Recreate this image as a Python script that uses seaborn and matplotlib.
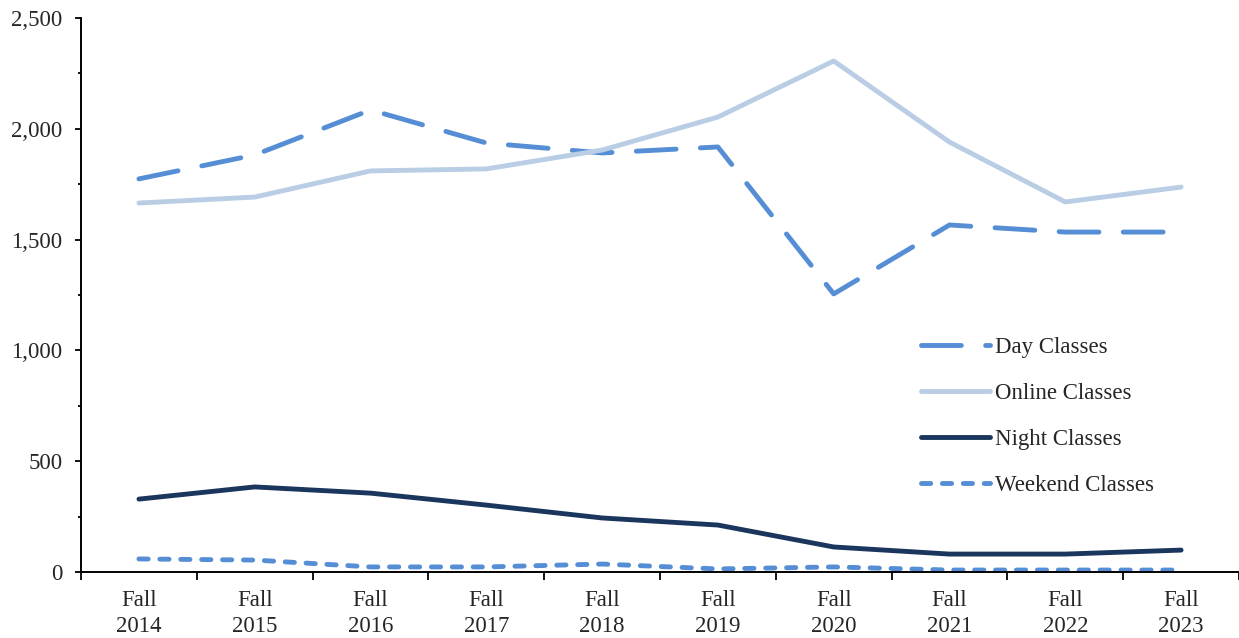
import numpy as np
import pandas as pd
import matplotlib.pyplot as plt
import seaborn as sns
from matplotlib.ticker import FuncFormatter, FixedLocator, MultipleLocator

# data
terms = ['Fall\n2014', 'Fall\n2015', 'Fall\n2016', 'Fall\n2017', 'Fall\n2018',
         'Fall\n2019', 'Fall\n2020', 'Fall\n2021', 'Fall\n2022', 'Fall\n2023']
day = [1774, 1882, 2085, 1936, 1891, 1918, 1255, 1566, 1534, 1534]
online = [1665, 1692, 1810, 1819, 1904, 2053, 2306, 1940, 1670, 1737]
night = [329, 384, 356, 302, 244, 212, 113, 81, 81, 99]
weekend = [59, 54, 23, 23, 36, 14, 23, 9, 9, 9]
series = ['Day Classes', 'Online Classes', 'Night Classes', 'Weekend Classes']

df = pd.DataFrame({'Term': terms, 'Day Classes': day, 'Online Classes': online,
                   'Night Classes': night, 'Weekend Classes': weekend})
long_df = df.melt(id_vars='Term', var_name='Type', value_name='Count')

sns.set_style('white')
plt.rcParams['font.family'] = ['Liberation Serif', 'DejaVu Serif']
FS = 16.5
LW = 3.5

palette = {'Day Classes': '#558ed5', 'Online Classes': '#b9cde5',
           'Night Classes': '#1b365d', 'Weekend Classes': '#558ed5'}
dashes = {'Day Classes': (8.2, 5), 'Online Classes': '',
          'Night Classes': '', 'Weekend Classes': (1.9, 2.4)}

fig = plt.figure(figsize=(12.39, 6.38), dpi=100)
ax = fig.add_axes([0.0654, 0.1034, 0.9346, 0.8684])

sns.lineplot(data=long_df, x='Term', y='Count', hue='Type', style='Type',
             hue_order=series, style_order=series, palette=palette,
             dashes=dashes, linewidth=LW, sort=False, ax=ax)
for line in ax.get_lines():
    line.set_dash_capstyle('round')
    line.set_solid_capstyle('round')

ax.set_xlim(-0.5, 9.5)
ax.set_ylim(0, 2500)
ax.set_yticks(np.arange(0, 2501, 500))
ax.yaxis.set_minor_locator(MultipleLocator(250))
ax.yaxis.set_major_formatter(FuncFormatter(lambda v, p: f'{int(v):,}'))
ax.set_xlabel('')
ax.set_ylabel('')

# category labels centred, ticks on the boundaries
ax.tick_params(axis='x', which='major', length=0, labelsize=FS, pad=13)
for lab in ax.get_xticklabels():
    lab.set_linespacing(1.32)
ax.xaxis.set_minor_locator(FixedLocator(np.arange(-0.5, 10, 1)))
ax.tick_params(axis='x', which='minor', length=6, width=1.3, direction='out', color='black')
ax.tick_params(axis='y', which='major', length=4.5, width=1.3, direction='out',
               color='black', labelsize=FS, pad=9)
ax.tick_params(axis='y', which='minor', length=2.5, width=1.3, direction='out', color='black')
ax.tick_params(axis='both', bottom=True, left=True, which='both')

for s in ['top', 'right']:
    ax.spines[s].set_visible(False)
for s in ['left', 'bottom']:
    ax.spines[s].set_color('black')
    ax.spines[s].set_linewidth(1.4)

leg = ax.legend(loc='upper left', bbox_to_anchor=(0.708, 0.462), frameon=False,
                fontsize=FS, handlelength=3.0, handletextpad=0.2, labelspacing=1.09)
for h in leg.get_lines():
    h.set_linewidth(LW)

fig.savefig('out.png', dpi=100)
